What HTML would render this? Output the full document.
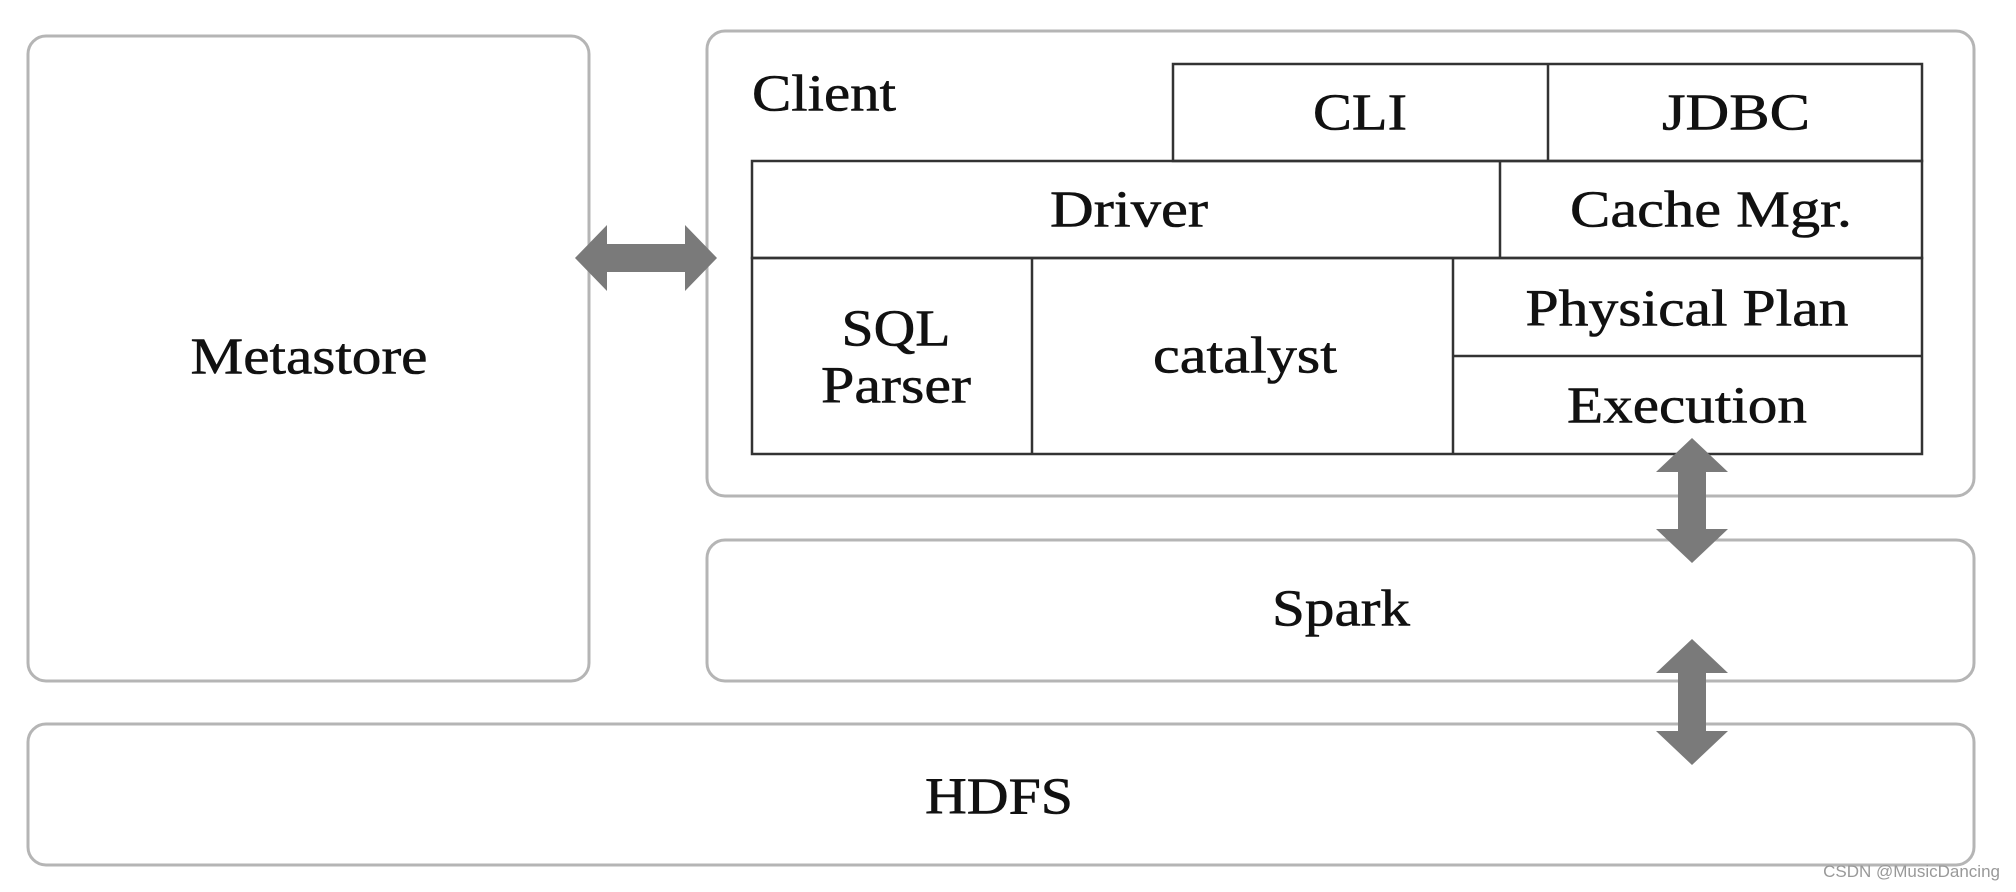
<!DOCTYPE html>
<html><head><meta charset="utf-8"><style>
html,body{margin:0;padding:0;background:#fff;}
svg{display:block;}
text{font-family:"Liberation Serif",serif;fill:#111;stroke:#111;stroke-width:0.6;}
</style></head><body>
<svg width="2016" height="892" viewBox="0 0 2016 892" xmlns="http://www.w3.org/2000/svg">
<rect width="2016" height="892" fill="#fff"/>
<g fill="none" stroke="#b5b5b5" stroke-width="3">
<rect x="28" y="36" width="561" height="645" rx="18"/>
<rect x="707" y="31" width="1267" height="465" rx="18"/>
<rect x="707" y="540" width="1267" height="141" rx="18"/>
<rect x="28" y="724" width="1946" height="141" rx="18"/>
</g>
<g fill="none" stroke="#333" stroke-width="2.5">
<rect x="1173" y="64" width="749" height="97"/>
<line x1="1548" y1="64" x2="1548" y2="161"/>
<rect x="752" y="161" width="1170" height="97"/>
<line x1="1500" y1="161" x2="1500" y2="258"/>
<rect x="752" y="258" width="1170" height="196"/>
<line x1="1032" y1="258" x2="1032" y2="454"/>
<line x1="1453" y1="258" x2="1453" y2="454"/>
<line x1="1453" y1="356" x2="1922" y2="356"/>
</g>
<g fill="#7a7a7a">
<polygon points="575,258 607,225 607,244 685,244 685,225 717,258 685,291 685,272 607,272 607,291"/>
<polygon points="1692,438 1728,472 1706,472 1706,529 1728,529 1692,563 1656,529 1678,529 1678,472 1656,472"/>
<polygon points="1692,639 1728,673 1706,673 1706,731 1728,731 1692,765 1656,731 1678,731 1678,673 1656,673"/>
</g>
<g font-size="52" text-anchor="middle" dominant-baseline="central" lengthAdjust="spacingAndGlyphs">
<text x="309" y="357" textLength="237" lengthAdjust="spacingAndGlyphs">Metastore</text>
<text x="752" y="94" text-anchor="start" textLength="144" lengthAdjust="spacingAndGlyphs">Client</text>
<text x="1360" y="113" textLength="94" lengthAdjust="spacingAndGlyphs">CLI</text>
<text x="1736" y="113" textLength="148" lengthAdjust="spacingAndGlyphs">JDBC</text>
<text x="1129" y="210" textLength="158" lengthAdjust="spacingAndGlyphs">Driver</text>
<text x="1711" y="210" textLength="282" lengthAdjust="spacingAndGlyphs">Cache Mgr.</text>
<text x="896" y="329" textLength="109" lengthAdjust="spacingAndGlyphs">SQL</text>
<text x="896" y="386" textLength="150" lengthAdjust="spacingAndGlyphs">Parser</text>
<text x="1245" y="356" textLength="184" lengthAdjust="spacingAndGlyphs">catalyst</text>
<text x="1687" y="309" textLength="323" lengthAdjust="spacingAndGlyphs">Physical Plan</text>
<text x="1687" y="406" textLength="240" lengthAdjust="spacingAndGlyphs">Execution</text>
<text x="1341" y="609" textLength="138" lengthAdjust="spacingAndGlyphs">Spark</text>
<text x="999" y="797" textLength="148" lengthAdjust="spacingAndGlyphs">HDFS</text>
</g>
<text x="2000" y="877" font-size="17" text-anchor="end" style="font-family:'Liberation Sans',sans-serif;fill:#999;stroke:none">CSDN @MusicDancing</text>
</svg>
</body></html>
